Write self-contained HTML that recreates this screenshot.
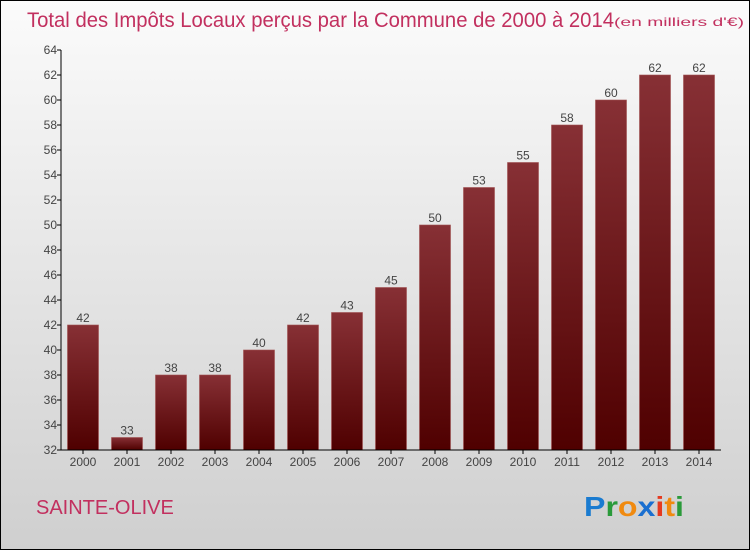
<!DOCTYPE html>
<html><head><meta charset="utf-8"><style>
body{margin:0}
#c{width:750px;height:550px;position:relative;font-family:"Liberation Sans",sans-serif}
</style></head><body>
<div id="c">
<svg id="s" width="750" height="550" xmlns="http://www.w3.org/2000/svg">
<defs>
<linearGradient id="bg" x1="0" y1="0" x2="0" y2="1"><stop offset="0" stop-color="#fbfbfb"/><stop offset="1" stop-color="#cfcfcf"/></linearGradient>
<linearGradient id="bar" x1="0" y1="0" x2="0" y2="1"><stop offset="0" stop-color="#873035"/><stop offset="1" stop-color="#4f0000"/></linearGradient>
</defs>
<rect x="0.5" y="0.5" width="749" height="549" fill="url(#bg)" stroke="#000"/>
<text x="27" y="27" font-size="21" fill="#c2305f" textLength="587" lengthAdjust="spacingAndGlyphs">Total des Impôts Locaux perçus par la Commune de 2000 à 2014</text>
<text x="614" y="26" font-size="12" fill="#c2305f" textLength="130" lengthAdjust="spacingAndGlyphs">(en milliers d'€)</text>
<text x="36" y="514" font-size="20" fill="#c2305f">SAINTE-OLIVE</text>
<g font-size="28" font-weight="bold" font-family="Liberation Sans, sans-serif">
<text x="584" y="516" textLength="100" lengthAdjust="spacingAndGlyphs"><tspan fill="#1a7bd0">P</tspan><tspan fill="#2a9a3a">r</tspan><tspan fill="#f08a10">o</tspan><tspan fill="#1a6fd0">x</tspan><tspan fill="#e53a20">i</tspan><tspan fill="#f08a10">t</tspan><tspan fill="#2a9a3a">i</tspan></text>
</g>
<g id="bars"></g>
<g id="axes"></g>
</svg>
</div>
<script>
const years=["2000","2001","2002","2003","2004","2005","2006","2007","2008","2009","2010","2011","2012","2013","2014"];
const values=[42,33,38,38,40,42,43,45,50,53,55,58,60,62,62];
const yTicks=[32,34,36,38,40,42,44,46,48,50,52,54,56,58,60,62,64];
const NS="http://www.w3.org/2000/svg";
const y0=450,y1=50,vmin=32,vmax=64,xl=61,xr=721;
const Y=v=>y0-(v-vmin)/(vmax-vmin)*(y0-y1);
const step=(xr-xl)/years.length;
const X=i=>xl+step*(i+0.5);
const bw=31;
function mk(t,a,p){const e=document.createElementNS(NS,t);for(const k in a)e.setAttribute(k,a[k]);p.appendChild(e);return e;}
const bars=document.getElementById('bars'),axes=document.getElementById('axes');
values.forEach((v,i)=>{
 const r=mk('rect',{x:X(i)-bw/2,y:Y(v),width:bw,height:y0-Y(v),fill:'url(#bar)',stroke:'#a05050','stroke-width':0.6},bars);
 
 
 const t=mk('text',{x:X(i),y:Y(v)-3,'text-anchor':'middle','font-size':12,fill:'#444'},bars);t.textContent=v;
 
 
 const l=mk('text',{x:X(i),y:466,'text-anchor':'middle','font-size':12,fill:'#444'},axes);l.textContent=years[i];
 
 
 mk('line',{x1:X(i),x2:X(i),y1:y0,y2:y0+4,stroke:'#000'},axes);
});
const ya=mk('line',{x1:xl,x2:xl,y1:y1,y2:y0,stroke:'#000'},axes);


const xa=mk('line',{x1:xl,x2:xr,y1:y0,y2:y0,stroke:'#000'},axes);


yTicks.forEach(v=>{
 mk('line',{x1:xl-4,x2:xl,y1:Y(v),y2:Y(v),stroke:'#000'},axes);
 const t=mk('text',{x:xl-4,y:Y(v)+4,'text-anchor':'end','font-size':12,fill:'#444'},axes);t.textContent=v;
 
 
});
</script>
</body></html>
